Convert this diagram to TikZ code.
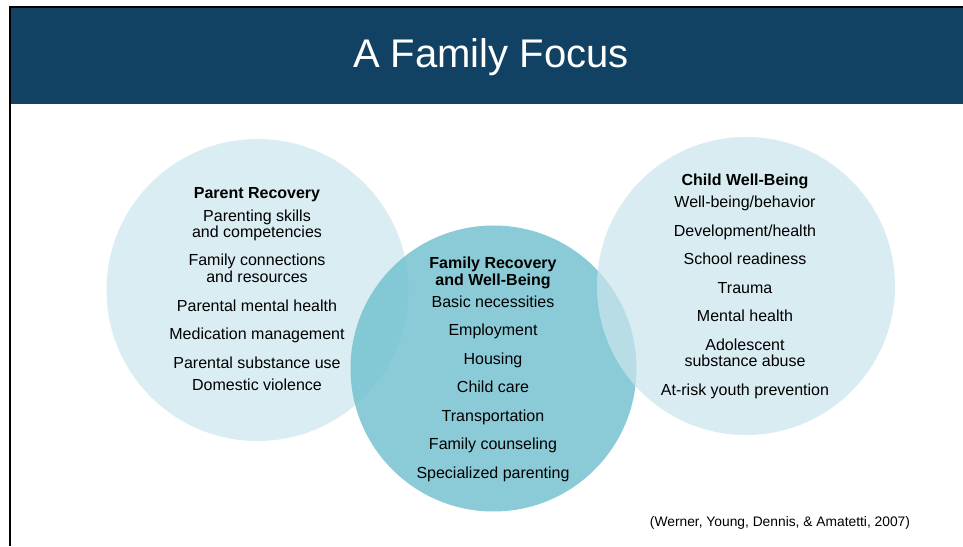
\documentclass[tikz,border=0pt]{standalone}
\usepackage{fontspec}
\setmainfont{Liberation Sans}
\definecolor{barblue}{HTML}{124263}
\definecolor{midteal}{RGB}{109,191,206}
\definecolor{lightblue}{RGB}{203,229,236}
\definecolor{paleblue}{RGB}{218,237,242}
\tikzset{
  item/.style={anchor=base, inner sep=0pt, font=\fontsize{16}{17}\selectfont, text=black},
  head/.style={item, font=\fontsize{16}{17}\selectfont\bfseries},
  sidecircle/.style={fill=lightblue, fill opacity=0.72, draw=none},
  midcircle/.style={fill=midteal, fill opacity=0.8, draw=none}
}
\begin{document}
\begin{tikzpicture}[x=1pt,y=1pt]
\useasboundingbox (0,0) rectangle (963,546);
\fill[white] (0,0) rectangle (963,546);
% title bar
\fill[barblue] (11,442) rectangle (963,538);
\fill[black] (9,538) rectangle (963,540);
\fill[black] (9,0) rectangle (11,540);
\node[anchor=center, text=white, font=\fontsize{40}{40}\selectfont] (title) at (491,489) {A Family Focus};

% circles
\fill[paleblue] (257.5,256) circle (151);
\fill[midcircle] (493.5,177.5) circle (143);
\fill[sidecircle] (746,260) circle (149);

% left circle text
\node[head] (pr) at (257,347) {Parent Recovery};
\node[item] (l1) at (257,324) {Parenting skills};
\node[item] (l2) at (257,308) {and competencies};
\node[item] (l3) at (257,280) {Family connections};
\node[item] (l4) at (257,263) {and resources};
\node[item] (l5) at (257,234) {Parental mental health};
\node[item] (l6) at (257,206) {Medication management};
\node[item] (l7) at (257,177) {Parental substance use};
\node[item] (l8) at (257,155) {Domestic violence};

% middle circle text
\node[head] (fr1) at (493,277) {Family Recovery};
\node[head] (fr2) at (493,260) {and Well-Being};
\node[item] (m1) at (493,238) {Basic necessities};
\node[item] (m2) at (493,210) {Employment};
\node[item] (m3) at (493,181) {Housing};
\node[item] (m4) at (493,153) {Child care};
\node[item] (m5) at (493,124) {Transportation};
\node[item] (m6) at (493,96) {Family counseling};
\node[item] (m7) at (493,67) {Specialized parenting};

% right circle text
\node[head] (cw) at (745,360) {Child Well-Being};
\node[item] (r1) at (745,338) {Well-being/behavior};
\node[item] (r2) at (745,309) {Development/health};
\node[item] (r3) at (745,281) {School readiness};
\node[item] (r4) at (745,252) {Trauma};
\node[item] (r5) at (745,224) {Mental health};
\node[item] (r6) at (745,195) {Adolescent};
\node[item] (r7) at (745,179) {substance abuse};
\node[item] (r8) at (745,150) {At-risk youth prevention};

% citation
\node[anchor=base, inner sep=0pt, font=\fontsize{13.8}{14}\selectfont] (cite) at (780,20) {(Werner, Young, Dennis, \& Amatetti, 2007)};
\end{tikzpicture}
\end{document}
